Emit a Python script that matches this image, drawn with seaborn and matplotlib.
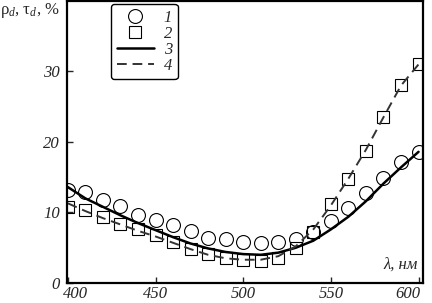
import matplotlib
matplotlib.use("Agg")
import matplotlib.pyplot as plt
import matplotlib.transforms as mtransforms
import seaborn as sns
import numpy as np

# measured points
wl_pts = [400, 410, 420, 430, 440, 450, 460, 470, 480, 490, 500,
          510, 520, 530, 540, 550, 560, 570, 580, 590, 600]
rho_pts = [13.2, 12.9, 11.8, 10.9, 9.7, 9.0, 8.2, 7.4, 6.4, 6.2, 5.8,
           5.7, 5.8, 6.2, 7.3, 8.8, 10.7, 12.7, 14.9, 17.2, 18.6]
tau_pts = [10.8, 10.4, 9.4, 8.4, 7.6, 6.8, 5.8, 4.8, 4.1, 3.5, 3.2,
           3.1, 3.6, 4.9, 7.3, 11.2, 14.8, 18.7, 23.6, 28.1, 31.0]

# calculated curves
wl_calc = [400, 410, 420, 430, 440, 450, 460, 470, 480, 490, 500,
           510, 520, 530, 540, 550, 560, 570, 580, 590, 600]
rho_calc = [13.6, 12.0, 10.8, 9.6, 8.5, 7.5, 6.5, 5.6, 4.9, 4.4, 4.1,
            4.0, 4.3, 5.0, 6.0, 7.6, 9.4, 11.6, 14.1, 16.4, 18.6]
tau_calc = [11.3, 10.2, 9.2, 8.3, 7.4, 6.6, 5.7, 4.8, 4.0, 3.5, 3.3,
            3.3, 3.8, 5.2, 7.6, 11.0, 14.8, 18.9, 23.5, 28.0, 31.0]

xticks = [400, 450, 500, 550, 600]
yticks = [0, 10, 20, 30]

sns.set_style("ticks")
plt.rcParams['font.family'] = ['Liberation Serif', 'DejaVu Serif']
plt.rcParams['mathtext.fontset'] = 'custom'
plt.rcParams['mathtext.rm'] = 'Liberation Serif'
plt.rcParams['mathtext.it'] = 'Liberation Serif:italic'

fig = plt.figure(figsize=(4.32, 3.03), dpi=100)
ax = fig.add_axes([0.155, 0.066, 0.824, 0.931])

h1 = sns.lineplot(x=wl_pts, y=rho_pts, ax=ax, linestyle='none', marker='o',
                  markersize=10, markerfacecolor='none', markeredgecolor='black',
                  markeredgewidth=0.8, color='black', label='1').lines[-1]
h2 = sns.lineplot(x=wl_pts, y=tau_pts, ax=ax, linestyle='none', marker='s',
                  markersize=9, markerfacecolor='none', markeredgecolor='black',
                  markeredgewidth=0.8, color='black', label='2').lines[-1]
h3 = sns.lineplot(x=wl_calc, y=rho_calc, ax=ax, color='black', linewidth=1.8,
                  label='3').lines[-1]
h4 = sns.lineplot(x=wl_calc, y=tau_calc, ax=ax, color='#333333', linewidth=1.4,
                  label='4').lines[-1]
h4.set_dashes([5, 3])

ax.set_xlim(399.5, 602.5)
ax.set_ylim(0, 40)
ax.set_xticks(xticks)
ax.set_yticks(yticks)
ax.set_xticklabels([str(t) for t in xticks], fontstyle='italic', fontsize=12)
ax.set_yticklabels([str(t) for t in yticks], fontstyle='italic', fontsize=12)
ax.tick_params(direction='in', length=4, width=1, pad=5)
ax.tick_params(axis='x', pad=2)
ax.set_xlabel('')
ax.set_ylabel('')

# shift end labels inward like the original
xl = ax.get_xticklabels()
xl[0].set_transform(xl[0].get_transform() + mtransforms.ScaledTranslation(8 / 100, 0, fig.dpi_scale_trans))
xl[-1].set_transform(xl[-1].get_transform() + mtransforms.ScaledTranslation(-11 / 100, 0, fig.dpi_scale_trans))

for s in ['top', 'bottom', 'left', 'right']:
    ax.spines[s].set_linewidth(1.6)
    ax.spines[s].set_color('black')

leg = ax.legend(handles=[h1, h2, h3, h4], labels=['1', '2', '3', '4'],
                loc='upper left', bbox_to_anchor=(0.124, 0.99), borderaxespad=0,
                frameon=True, fancybox=True, edgecolor='black',
                handlelength=2.2, handletextpad=0.6, labelspacing=0.0,
                borderpad=0.35, prop={'style': 'italic', 'size': 12})
leg.get_frame().set_linewidth(1.0)
leg.get_frame().set_alpha(1)

ax.text(0.985, 0.035, 'λ, нм', transform=ax.transAxes, ha='right', va='bottom',
        fontstyle='italic', fontsize=12)
fig.text(0.0, 0.965, 'ρ$_d$, τ$_d$, %', ha='left', va='center', fontsize=12)

fig.savefig('out.png', dpi=100)
